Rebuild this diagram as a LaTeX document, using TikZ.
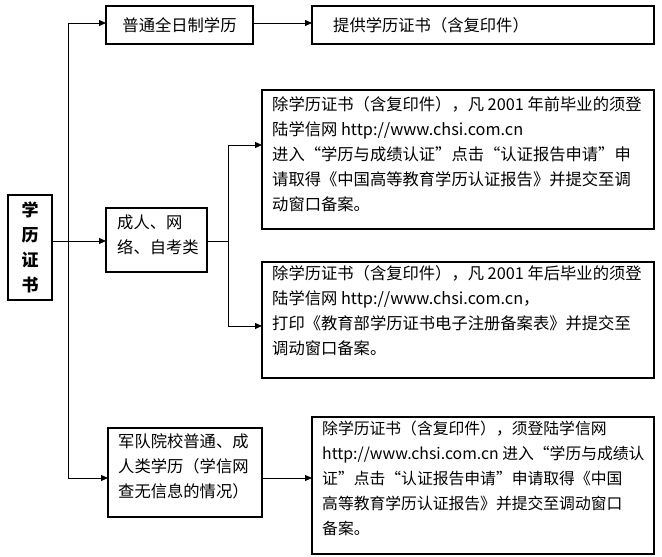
\documentclass[tikz,border=0pt]{standalone}
\usepackage{fontspec}
\setmainfont{Noto Sans CJK SC}
\usetikzlibrary{arrows.meta}
\begin{document}
\begin{tikzpicture}[x=1pt,y=-1pt,
  box/.style={draw,line width=1.1pt},
  txt/.style={anchor=north west,align=left,inner sep=0pt,font=\fontsize{16.3}{25}\selectfont},
  arr/.style={-{Triangle[length=7pt,width=6pt]},line width=1pt}]
\useasboundingbox (0,0) rectangle (662,557);
% boxes
\draw[box] (8,195) rectangle (52,300);
\node[font=\bfseries\fontsize{17}{25}\selectfont,align=center] (root) at (30,247) {学\\历\\证\\书};
\coordinate (rootR) at (52,241);
\draw[box] (106,6) rectangle (253,44);
\node[font=\fontsize{16.3}{20}\selectfont] (a1) at (179.5,25) {普通全日制学历};
\draw[box] (312,6) rectangle (654,44);
\node[txt,anchor=west] (a2) at (333,25) {提供学历证书（含复印件）};
\draw[box] (106,208) rectangle (207,272);
\node[txt,align=left] (b1) at (117,215) {成人、网\\络、自考类};
\draw[box] (262,90) rectangle (654,229);
\node[txt] (b2) at (272,96) {除学历证书（含复印件），凡 2001 年前毕业的须登\\陆学信网 http://www.chsi.com.cn\\进入“学历与成绩认证”点击“认证报告申请”申\\请取得《中国高等教育学历认证报告》并提交至调\\动窗口备案。};
\draw[box] (262,262) rectangle (654,378);
\node[txt] (b3) at (272,265) {除学历证书（含复印件），凡 2001 年后毕业的须登\\陆学信网 http://www.chsi.com.cn，\\打印《教育部学历证书电子注册备案表》并提交至\\调动窗口备案。};
\draw[box] (108,428) rectangle (262,517);
\node[txt] (c1) at (118,433) {军队院校普通、成\\人类学历（学信网\\查无信息的情况）};
\draw[box] (312,417) rectangle (654,554);
\node[txt,font=\fontsize{15.8}{25}\selectfont] (c2) at (322,421) {除学历证书（含复印件），须登陆学信网\\http://www.chsi.com.cn 进入“学历与成绩认\\证”点击“认证报告申请”申请取得《中国\\高等教育学历认证报告》并提交至调动窗口\\备案。};
% connectors
\coordinate (t1) at (68,23); \coordinate (t2) at (68,478);
\coordinate (a1L) at (106,23); \coordinate (a1R) at (253,23); \coordinate (a2L) at (312,23);
\coordinate (b1L) at (106,241); \coordinate (b1R) at (207,241);
\coordinate (s1) at (228,145); \coordinate (s2) at (228,326);
\coordinate (b2L) at (262,145); \coordinate (b3L) at (262,326);
\coordinate (c1L) at (108,478); \coordinate (c1R) at (262,478); \coordinate (c2L) at (312,478);
\draw[line width=1pt] (t1) -- (t2);
\draw[line width=1pt] (rootR) -- (68,241);
\draw[arr] (t1) -- (a1L);
\draw[arr] (68,241) -- (b1L);
\draw[arr] (t2) -- (c1L);
\draw[arr] (a1R) -- (a2L);
\draw[arr] (c1R) -- (c2L);
\draw[line width=1pt] (b1R) -- (228,241);
\draw[line width=1pt] (s1) -- (s2);
\draw[arr] (s1) -- (b2L);
\draw[arr] (s2) -- (b3L);
\end{tikzpicture}
\end{document}
